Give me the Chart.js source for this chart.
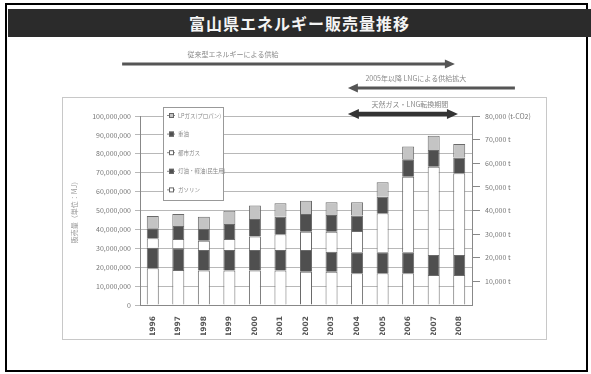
<!DOCTYPE html>
<html><head><meta charset="utf-8">
<script src="https://cdn.jsdelivr.net/npm/chart.js@4/dist/chart.umd.min.js"></script>
<style>
html,body{margin:0;padding:0;background:#fff;}
#wrap{position:relative;width:591px;height:374px;overflow:hidden;background:#fff;}
#title{position:absolute;left:8px;top:9px;width:583px;height:28px;background:#2b2b2b;color:#f4f4f4;font:bold 16px "Noto Sans CJK JP";text-align:center;line-height:28px;letter-spacing:1px;}
canvas{position:absolute;left:0;top:0;}
</style></head><body>
<div id="wrap"><canvas id="c" width="591" height="374"></canvas><div id="title">富山県エネルギー販売量推移</div></div>
<script>
// ---- data ----
const years = ['1996','1997','1998','1999','2000','2001','2002','2003','2004','2005','2006','2007','2008'];
const seriesNames = ['ガソリン','灯油・軽油(民生用)','都市ガス','重油','LPガス(プロパン)'];
const gasoline = [19400000,18500000,18200000,18200000,18200000,18200000,17600000,17600000,16800000,16800000,16800000,15900000,15900000];
const kerosene = [10900000,11500000,10900000,10900000,10900000,10900000,11500000,10600000,11100000,11100000,11100000,10600000,10600000];
const cityGas  = [5000000,4900000,4900000,5800000,7100000,8300000,9700000,10600000,11300000,20600000,40000000,46700000,43200000];
const heavyOil = [5300000,6900000,6200000,8000000,9300000,9300000,9300000,8800000,8100000,8800000,9200000,8800000,8400000];
const lpg      = [6500000,6300000,6500000,7000000,7100000,7100000,7100000,6700000,7000000,7600000,6700000,7600000,7100000];
const rightTicks = [10000,20000,30000,40000,50000,60000,70000,80000];
const leftAxisTitle = '販売量（単位：MJ）';
const annotations = [
  {text:'従来型エネルギーによる供給', from:-1.2, to:11.83, textAt:3.14, dy:-52, heads:'end', width:3},
  {text:'2005年以降 LNGによる供給拡大', from:14.18, to:7.64, textAt:10.3, dy:-28, heads:'end', width:3},
  {text:'天然ガス・LNG転換期間', from:7.64, to:11.95, textAt:10.07, dy:-2, heads:'both', width:4.5}
];

Chart.defaults.font.family = '"Noto Sans CJK JP", "Noto Sans", sans-serif';

const fills = ['#ffffff','#4f4f4f','#ffffff','#4f4f4f','#c4c4c4'];
const seriesData = [gasoline, kerosene, cityGas, heavyOil, lpg];

const framePlugin = {
  id:'frame',
  beforeDraw(chart){
    const ctx = chart.ctx;
    ctx.save();
    ctx.fillStyle = '#fff';
    ctx.fillRect(0,0,chart.width,chart.height);
    ctx.strokeStyle = '#000'; ctx.lineWidth = 2;
    ctx.strokeRect(6,4,581,367);
    ctx.strokeStyle = '#c8c8c8'; ctx.lineWidth = 1;
    ctx.strokeRect(62.5,97.5,484,242);
    ctx.restore();
  },
  afterDatasetsDraw(chart){
    const ctx = chart.ctx, x = chart.scales.x, a = chart.chartArea;
    ctx.save();
    // legend
    const lx = a.left + 23, ly = a.top - 9, lw = 60, lh = 93;
    ctx.fillStyle = '#fff'; ctx.fillRect(lx, ly, lw, lh);
    ctx.strokeStyle = '#999'; ctx.lineWidth = 1;
    ctx.strokeRect(lx+0.5, ly+0.5, lw, lh);
    ctx.font = '5.5px "Noto Sans CJK JP"'; ctx.textBaseline = 'middle';
    const n = chart.data.datasets.length;
    for (let i = 0; i < n; i++) {
      const ds = chart.data.datasets[n-1-i];
      const yy = ly + 8 + i*18.6;
      ctx.strokeStyle = '#888'; ctx.beginPath(); ctx.moveTo(lx+4, yy+0.5); ctx.lineTo(lx+12, yy+0.5); ctx.stroke();
      ctx.fillStyle = ds.backgroundColor; ctx.fillRect(lx+6, yy-2, 5, 5);
      ctx.strokeStyle = '#666'; ctx.strokeRect(lx+6.5, yy-1.5, 4, 4);
      ctx.fillStyle = '#888'; ctx.fillText(ds.label, lx+15, yy+0.5);
    }
    // annotation arrows
    annotations.forEach(an => {
      const x1 = x.getPixelForValue(an.from), x2 = x.getPixelForValue(an.to);
      const y = a.top + an.dy;
      const dir = Math.sign(x2 - x1);
      const hl = an.width > 4 ? 11 : 10, hw = an.width > 4 ? 5 : 4.5;
      ctx.strokeStyle = an.width > 4 ? '#333' : '#555';
      ctx.fillStyle = ctx.strokeStyle;
      ctx.lineWidth = an.width;
      ctx.beginPath();
      ctx.moveTo(an.heads === 'both' ? x1 + dir*hl*0.8 : x1, y);
      ctx.lineTo(x2 - dir*hl*0.8, y); ctx.stroke();
      const head = (px, d) => { ctx.beginPath(); ctx.moveTo(px, y); ctx.lineTo(px - d*hl, y - hw); ctx.lineTo(px - d*hl, y + hw); ctx.closePath(); ctx.fill(); };
      head(x2, dir);
      if (an.heads === 'both') head(x1, -dir);
      ctx.font = '7px "Noto Sans CJK JP"'; ctx.fillStyle = '#888';
      ctx.textAlign = 'center'; ctx.textBaseline = 'alphabetic';
      ctx.fillText(an.text, x.getPixelForValue(an.textAt), y - 7);
    });
    ctx.restore();
  }
};

new Chart(document.getElementById('c'), {
  type:'bar',
  data:{
    labels: years,
    datasets: seriesData.map((d,i)=>({
      label: seriesNames[i], data: d, backgroundColor: fills[i],
      borderColor:'#6a6a6a', borderWidth:1, barPercentage:0.47, categoryPercentage:1, yAxisID:'y'
    }))
  },
  options:{
    responsive:false, animation:false,
    layout:{padding:{left:62, right:59, top:116, bottom:39}},
    plugins:{legend:{display:false}, tooltip:{enabled:false}},
    scales:{
      x:{stacked:true, grid:{display:false}, border:{color:'#888'},
         ticks:{autoSkip:false, maxRotation:90, minRotation:90, padding:3, color:'#555',
                font:{family:'"DejaVu Sans", sans-serif', size:7.5, weight:'bold'}},
         afterFit(s){ s.height = 30; }},
      y:{stacked:true, min:0, max:100000000,
         ticks:{stepSize:10000000, padding:4, color:'#777', font:{size:7}, callback:v=>v.toLocaleString('en-US')},
         grid:{color:'#b8b8b8', tickLength:5}, border:{color:'#888'},
         title:{display:true, text:leftAxisTitle, color:'#999', font:{size:7}, padding:{top:8,bottom:0}},
         afterFit(s){ s.width = 78; }},
      y2:{position:'right', display:true, min:0, max:80000,
         afterBuildTicks(s){ s.ticks = rightTicks.map(v=>({value:v})); },
         ticks:{padding:5, color:'#777', font:{size:7},
           callback:v=> v === rightTicks[rightTicks.length-1] ? v.toLocaleString('en-US') + ' (t-CO2)' : v.toLocaleString('en-US') + ' t'},
         grid:{drawOnChartArea:false, tickLength:8, color:'#888'}, border:{color:'#888'},
         afterFit(s){ s.width = 60; }}
    }
  },
  plugins:[framePlugin]
});
</script>
</body></html>
